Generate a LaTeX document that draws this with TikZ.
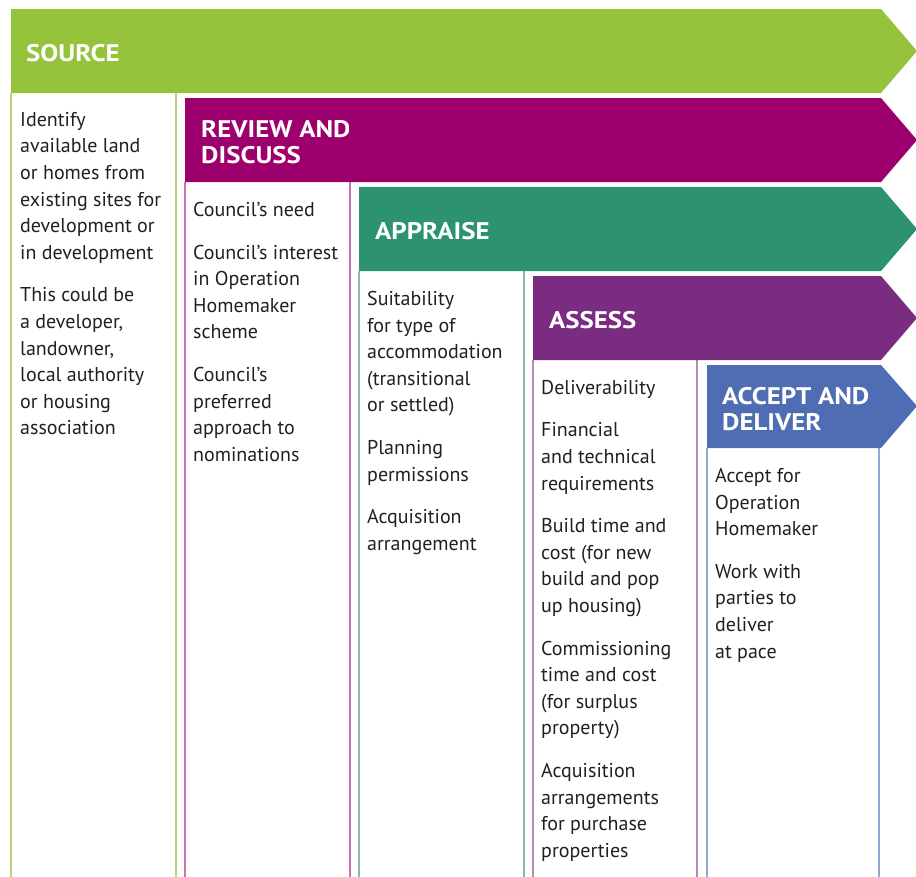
\documentclass[tikz,border=0pt]{standalone}
\usepackage{fontspec}
\setmainfont{PT Sans}
\newfontfamily\headfont{PT Sans}[FakeStretch=1.12]

\definecolor{srcgreen}{HTML}{96C33C}
\definecolor{revmagenta}{HTML}{9D006D}
\definecolor{appteal}{HTML}{2C9271}
\definecolor{asspurple}{HTML}{7A2D80}
\definecolor{accblue}{HTML}{4F6DB3}
\definecolor{bodytext}{HTML}{231F20}

\tikzset{
  body/.style={anchor=north west, inner sep=0pt, align=left,
    font=\fontsize{20}{26.6}\selectfont, text=bodytext},
  head/.style={anchor=west, inner sep=0pt, align=left,
    font=\headfont\fontsize{24}{26.5}\selectfont\bfseries, text=white},
  rule/.style={line width=1.3pt}
}

\begin{document}
\begin{tikzpicture}[x=1pt,y=-1pt]
  \useasboundingbox (0,0) rectangle (916,876);

  % column rules, each stage one colour
  \begin{scope}[rule]
    \draw[srcgreen!70]   (11,93)  -- (11,880)  (176,93)  -- (176,880);
    \draw[revmagenta!55] (185,182) -- (185,880) (350,182) -- (350,880);
    \draw[appteal!60]    (359,271) -- (359,880) (524,271) -- (524,880);
    \draw[asspurple!55]  (533,360) -- (533,880) (697,360) -- (697,880);
    \draw[accblue!60]    (707,448) -- (707,880) (879,448) -- (879,880);
  \end{scope}

  % arrow banners
  \fill[srcgreen]   (11,9)   -- (881,9)   -- (917,51)  -- (881,93)  -- (11,93)   -- cycle;
  \fill[revmagenta] (185,98) -- (881,98)  -- (917,140) -- (881,182) -- (185,182) -- cycle;
  \fill[appteal]    (359,187) -- (881,187) -- (917,229) -- (881,271) -- (359,271) -- cycle;
  \fill[asspurple]  (533,276) -- (881,276) -- (917,318) -- (881,360) -- (533,360) -- cycle;
  \fill[accblue]    (707,365) -- (881,365) -- (917,406) -- (881,448) -- (707,448) -- cycle;

  % headings
  \node[head] (source)  at (26,53)   {SOURCE};
  \begin{scope}
    \clip (185,98) rectangle (348,182);
    \node[head] (review) at (201,142) {REVIEW AND\\DISCUSS};
  \end{scope}
  \node[head] (appraise) at (375,231) {APPRAISE};
  \node[head] (assess)   at (549,320) {ASSESS};
  \node[head] (accept)   at (722,409) {ACCEPT AND\\DELIVER};

  % column texts
  \node[body] (srctext) at (20,112) {Identify\\available land\\or homes from\\existing sites for\\development or\\in development\\[16pt]
    This could be\\a developer,\\landowner,\\local authority\\or housing\\association};
  \node[body] (revtext) at (193,202) {Council’s need\\[16pt]
    Council’s interest\\in Operation\\Homemaker\\scheme\\[16pt]
    Council’s\\preferred\\approach to\\nominations};
  \node[body] (apptext) at (367,291) {Suitability\\for type of\\accommodation\\(transitional\\or settled)\\[16pt]
    Planning\\permissions\\[16pt]
    Acquisition\\arrangement};
  \node[body] (asstext) at (541,380) {Deliverability\\[16pt]
    Financial\\and technical\\requirements\\[16pt]
    Build time and\\cost (for new\\build and pop\\up housing)\\[16pt]
    Commissioning\\time and cost\\(for surplus\\property)\\[16pt]
    Acquisition\\arrangements\\for purchase\\properties};
  \node[body] (acctext) at (715,468) {Accept for\\Operation\\Homemaker\\[16pt]
    Work with\\parties to\\deliver\\at pace};

\end{tikzpicture}
\end{document}
